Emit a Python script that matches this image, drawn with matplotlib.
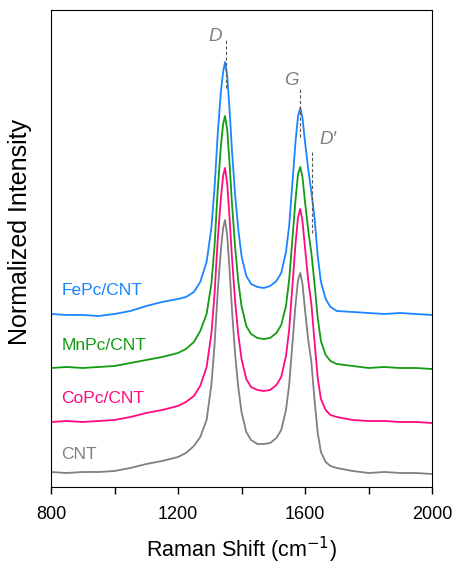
import numpy as np
import matplotlib.pyplot as plt

plt.rcParams['font.family'] = ['Liberation Sans', 'DejaVu Sans']

# Raman shift sample points (cm-1)
shift = [800, 850, 900, 950, 1000, 1050, 1100, 1150, 1200, 1225, 1250, 1270,
         1290, 1305, 1315, 1325, 1335, 1342, 1348, 1355, 1362, 1370, 1380, 1390,
         1400, 1415, 1430, 1450, 1470, 1490, 1510, 1525, 1540, 1550, 1560, 1570,
         1578, 1585, 1592, 1600, 1610, 1620, 1630, 1640, 1650, 1665, 1680, 1700,
         1750, 1800, 1850, 1900, 1950, 2000]

# intensities (a.u.)
cnt = [1, 0, 1, 1, 2, 5, 9, 12, 16, 20, 27, 36,
       53, 88, 128, 181, 223, 245, 253, 237, 205, 163, 118, 85,
       61, 41, 33, 29, 29, 30, 35, 43, 63, 88, 128, 168,
       193, 200, 189, 163, 133, 111, 73, 40, 21, 11, 7, 5,
       2, 0, 1, 0, 0, -1]
copc = [0, 1, 0, 1, 2, 5, 9, 12, 16, 20, 26, 36,
        55, 88, 128, 182, 224, 246, 254, 238, 206, 164, 120, 87,
        63, 43, 35, 32, 31, 32, 37, 45, 66, 92, 135, 178,
        205, 213, 201, 174, 142, 118, 80, 44, 23, 12, 7, 5,
        2, 1, 1, 0, 0, -1]
mnpc = [0, 1, 0, 1, 2, 5, 8, 11, 15, 19, 26, 37,
        54, 84, 122, 178, 222, 244, 252, 238, 206, 164, 120, 86,
        62, 42, 34, 30, 29, 30, 35, 43, 62, 88, 128, 168,
        194, 201, 191, 166, 138, 115, 84, 50, 27, 13, 7, 4,
        2, 0, 1, 0, 0, -1]
fepc = [0, -1, -1, -2, 0, 3, 8, 12, 15, 17, 22, 32,
        52, 86, 126, 180, 222, 242, 252, 238, 206, 163, 118, 84,
        58, 38, 30, 27, 26, 28, 33, 41, 62, 88, 130, 172,
        198, 206, 196, 172, 145, 122, 96, 58, 32, 15, 7, 3,
        2, 1, 0, 1, 0, -1]

samples = ['CNT', 'CoPc/CNT', 'MnPc/CNT', 'FePc/CNT']
offsets = [14, 65, 119, 173]
label_y = [32, 88, 141, 196]
colors = ['#808080', '#ff0a7f', '#139b13', '#1a85ff']

peaks = ['D', 'G', 'D\u2032']
peak_pos = [1350, 1585, 1621]

fig = plt.figure(figsize=(4.58, 5.67), dpi=100)
ax = fig.add_axes([0.1114, 0.1411, 0.8319, 0.8413])

x = np.array(shift)
for spec, off, name, ly, c in zip([cnt, copc, mnpc, fepc], offsets, samples, label_y, colors):
    ax.plot(x, np.array(spec) + off, color=c, lw=1.3)
    ax.text(832, ly, name, color=c, fontsize=12.5, va='center', ha='left')

# peak markers
ax.plot([peak_pos[0]] * 2, [399, 447], color='#555555', lw=0.8, dashes=(3, 2))
ax.plot([peak_pos[1]] * 2, [350, 400], color='#555555', lw=0.8, dashes=(3, 2))
ax.plot([peak_pos[2]] * 2, [254, 335], color='#555555', lw=0.8, dashes=(3, 2))
ax.text(1317, 450, peaks[0], color='#808080', fontsize=13.5, style='italic',
        ha='center', va='center')
ax.text(1557, 406, peaks[1], color='#808080', fontsize=13.5, style='italic',
        ha='center', va='center')
ax.text(1672, 347, peaks[2], color='#808080', fontsize=13.5, style='italic',
        ha='center', va='center')

ax.set_xlim(800, 2000)
ax.set_ylim(0, 477)
ax.set_xticks([800, 1200, 1600, 2000])
ax.set_xticks([1000, 1400, 1800], minor=True)
ax.set_yticks([])
ax.tick_params(axis='x', which='both', direction='out', length=5, width=1, labelsize=13, pad=9)
ax.set_xlabel('Raman Shift (cm$^{\u22121}$)', fontsize=15.5, labelpad=8)
ax.set_ylabel('Normalized Intensity', fontsize=18)
ax.yaxis.set_label_coords(-0.05, 0.534)

plt.savefig('out.png', dpi=100)
